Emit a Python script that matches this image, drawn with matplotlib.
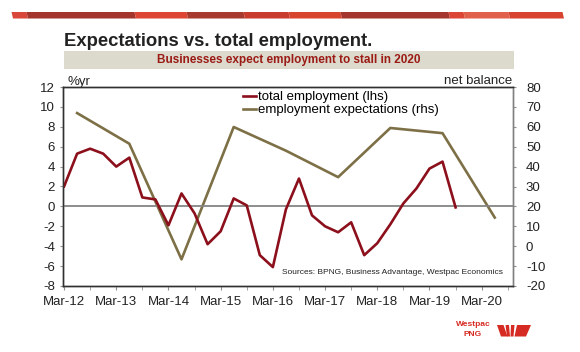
import numpy as np
import pandas as pd
import matplotlib
matplotlib.use("Agg")
import matplotlib.pyplot as plt
from matplotlib.patches import Polygon, Rectangle

plt.rcParams['font.family'] = ['Liberation Sans', 'DejaVu Sans']

# total employment, %yr (lhs), quarterly Mar-12 .. Sep-19
emp = [2.0, 5.3, 5.8, 5.3, 4.0, 4.9, 0.9, 0.7, -1.9, 1.3, -0.7, -3.8,
       -2.5, 0.8, 0.1, -4.9, -6.1, -0.3, 2.8, -0.9, -2.0, -2.6, -1.6, -4.9,
       -3.7, -1.8, 0.3, 1.8, 3.8, 4.5, -0.1]
# employment expectations, net balance (rhs), Jun-12 .. Jun-20
expct = [66.9, 51.5, -6.6, 59.9, 48.0, 34.7, 59.4, 56.8, 14.4]

xlabels = ["Mar-12", "Mar-13", "Mar-14", "Mar-15", "Mar-16",
           "Mar-17", "Mar-18", "Mar-19", "Mar-20"]
lhs_ticks = list(range(-8, 13, 2))
rhs_ticks = list(range(-20, 81, 10))

RED = '#8c0f1c'
OLIVE = '#7d7046'

def yrs(periods):
    # years since Mar-2012
    return np.array([(p.year - 2012) + (p.month - 3) / 12 for p in periods])

q_emp = pd.period_range("2012-03", periods=len(emp), freq="3M")
q_exp = pd.period_range("2012-06", periods=len(expct), freq="12M")

fig = plt.figure(figsize=(5.8, 3.52), dpi=100)

# pixel-coordinate background layer
bg = fig.add_axes([0, 0, 1, 1])
bg.set_xlim(0, 580)
bg.set_ylim(352, 0)
bg.axis('off')

# top banner
segs = [(13, 28, '#d8473a'), (28, 136, '#a4352d'), (136, 188, '#dd4535'),
        (188, 245, '#a8392f'), (245, 290, '#c93b2d'), (290, 342, '#d8452f'),
        (342, 450, '#a4362d'), (450, 465, '#dc4434'), (465, 510, '#e0604c'),
        (510, 564, '#d8432f')]
for x0, x1, c in segs:
    bg.add_patch(Polygon([(x0 - 1.5, 12), (x1 - 1.5, 12), (x1, 18.5), (x0, 18.5)],
                         closed=True, color=c, lw=0))

bg.text(64, 46, "Expectations vs. total employment.", fontsize=13.3,
        fontweight='bold', color='#222222', va='baseline', ha='left')
bg.add_patch(Rectangle((64, 51), 450, 18, color='#dcd9cd', lw=0))
bg.text(289, 60.5, "Businesses expect employment to stall in 2020", fontsize=8.5,
        fontweight='bold', color='#9b1b15', va='center', ha='center')
bg.text(67, 85, "%yr", fontsize=9.5, color='#222222', va='baseline', ha='left')
bg.text(512, 84, "net balance", fontsize=9.5, color='#222222', va='baseline', ha='right')

# logo
bg.text(473, 324, "Westpac", fontsize=6, fontweight='bold', color='#d62b22',
        ha='center', va='center')
bg.text(473, 335, "PNG", fontsize=6, fontweight='bold', color='#d62b22',
        ha='center', va='center')
logo = [[(497, 325), (503.5, 325), (507.5, 336.5), (501, 336.5)],
        [(505.5, 325), (509, 325), (510, 336.5), (507, 336.5)],
        [(511, 325), (514.5, 325), (513.5, 336.5), (510.5, 336.5)],
        [(517, 325), (531, 325), (526, 336.5), (514.5, 336.5)]]
for pts in logo:
    bg.add_patch(Polygon(pts, closed=True, color='#d62b22', lw=0))

# main chart
ax = fig.add_axes([63 / 580, 66 / 352, 450 / 580, 199 / 352])
ax2 = ax.twinx()
ax.set_zorder(ax2.get_zorder() + 1)
ax.patch.set_visible(False)

ax.axhline(0, color='#858585', lw=1.3, zorder=1)
l2, = ax2.plot(yrs(q_exp), expct, color=OLIVE, lw=1.9,
               label="employment expectations (rhs)")
l1, = ax.plot(yrs(q_emp), emp, color=RED, lw=1.9, label="total employment (lhs)")

ax.set_xlim(-0.02, 8.6)
ax.set_ylim(-8, 12)
ax2.set_ylim(-20, 80)
ax.set_xticks(range(len(xlabels)))
ax.set_xticklabels(xlabels)
ax.set_xticks(np.arange(0.5, 8.6, 1.0), minor=True)
ax.set_yticks(lhs_ticks)
ax.set_yticklabels([str(v) for v in lhs_ticks])
ax2.set_yticks(rhs_ticks)
ax2.set_yticklabels([str(v) for v in rhs_ticks])

ax.tick_params(axis='x', which='both', direction='out', length=2.9, color='#909090',
               labelsize=9.5, pad=4, labelcolor='#222222')
ax.tick_params(axis='y', direction='out', length=2.5, color='#909090',
               labelsize=9.5, pad=3.3, labelcolor='#222222')
ax2.tick_params(axis='y', direction='out', length=2.5, color='#909090',
                labelsize=9.5, pad=6.8, labelcolor='#222222')

for a in (ax, ax2):
    for s in ('left', 'bottom', 'top'):
        a.spines[s].set_color('#303030')
        a.spines[s].set_linewidth(1.0)
    a.spines['right'].set_color('#808080')
    a.spines['right'].set_linewidth(1.0)

ax.legend(handles=[l1, l2], loc='upper left', bbox_to_anchor=(243 / 580, 1 - 91 / 352),
          bbox_transform=fig.transFigure, frameon=False, fontsize=9.5, borderpad=0,
          handlelength=1.0, handletextpad=0.1, labelspacing=0.05, borderaxespad=0)

ax.text(503, 273, "Sources: BPNG, Business Advantage, Westpac Economics",
        transform=bg.transData, fontsize=6, color='#222222', ha='right', va='center')

fig.savefig("out.png", dpi=100)
